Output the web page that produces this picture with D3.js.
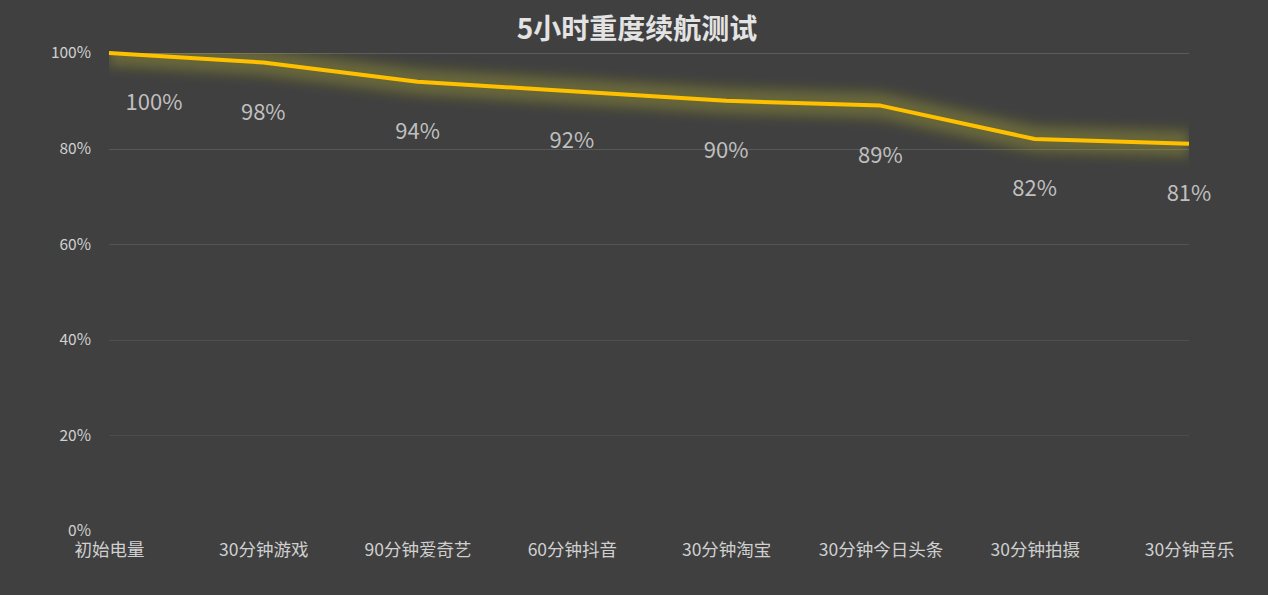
<!DOCTYPE html>
<html>
<head>
<meta charset="utf-8">
<script src="https://cdn.jsdelivr.net/npm/d3@7"></script>
<style>
  html, body { margin: 0; padding: 0; background: #404040; }
  svg { display: block; }
  text { font-family: "Noto Sans CJK SC", "Noto Sans", sans-serif; }
</style>
</head>
<body>
<svg id="chart" width="1268" height="595"></svg>
<script>
const title = "5小时重度续航测试";
const categories = ["初始电量", "30分钟游戏", "90分钟爱奇艺", "60分钟抖音", "30分钟淘宝", "30分钟今日头条", "30分钟拍摄", "30分钟音乐"];
const values = [1.00, 0.98, 0.94, 0.92, 0.90, 0.89, 0.82, 0.81];
const yTicks = [0, 0.2, 0.4, 0.6, 0.8, 1.0];

const W = 1268, H = 595;
const plot = { left: 109, right: 1189, top: 53, bottom: 531 };

const svg = d3.select("#chart");
svg.append("rect").attr("width", W).attr("height", H).attr("fill", "#404040");

const x = d3.scalePoint().domain(categories).range([plot.left, plot.right]).padding(0);
const y = d3.scaleLinear().domain([0, 1]).range([plot.bottom, plot.top]);

// defs
const defs = svg.append("defs");
defs.append("clipPath").attr("id", "plotClip")
  .append("rect")
  .attr("x", plot.left).attr("y", plot.top)
  .attr("width", plot.right - plot.left).attr("height", plot.bottom - plot.top);
const f = defs.append("filter").attr("id", "glow")
  .attr("x", "-10%").attr("y", "-200%").attr("width", "120%").attr("height", "500%");
f.append("feGaussianBlur").attr("stdDeviation", 6);

// title
svg.append("text")
  .attr("x", 637).attr("y", 27)
  .attr("text-anchor", "middle").attr("dominant-baseline", "central")
  .attr("font-size", 28).attr("font-weight", "bold")
  .attr("fill", "#e3e3e3")
  .text(title);

// gridlines
const grid = svg.append("g");
yTicks.filter(t => t > 0).forEach(t => {
  grid.append("line")
    .attr("x1", plot.left).attr("x2", plot.right)
    .attr("y1", Math.round(y(t)) + 0.5).attr("y2", Math.round(y(t)) + 0.5)
    .attr("stroke", "#ffffff")
    .attr("stroke-opacity", 0.04 + 0.11 * t)
    .attr("stroke-width", 1);
});

// y axis labels
const yAxis = d3.axisLeft(y).tickValues(yTicks).tickFormat(d3.format(".0%")).tickSize(0).tickPadding(18);
const gy = svg.append("g").attr("transform", `translate(${plot.left},0)`).call(yAxis);
gy.select(".domain").remove();
gy.selectAll("text")
  .attr("font-size", 15.5).attr("fill", "#d0d0d0")
  .attr("font-family", "\"Noto Sans CJK SC\", sans-serif");

// x axis labels
const xAxis = d3.axisBottom(x).tickSize(0).tickPadding(0);
const gx = svg.append("g").attr("transform", `translate(0,${plot.bottom + 19})`).call(xAxis);
gx.select(".domain").remove();
gx.selectAll("text")
  .attr("dy", "0.35em")
  .attr("font-size", 17.5).attr("fill", "#d0d0d0")
  .attr("font-family", "\"Noto Sans CJK SC\", sans-serif");

// line
const line = d3.line().x((d, i) => x(categories[i])).y(d => y(d));
const lg = svg.append("g").attr("clip-path", "url(#plotClip)");
lg.append("path")
  .attr("d", line(values))
  .attr("fill", "none")
  .attr("stroke", "#e8e020")
  .attr("stroke-opacity", 0.24)
  .attr("stroke-width", 26)
  .attr("stroke-linejoin", "round")
  .attr("filter", "url(#glow)");
svg.append("path")
  .attr("d", line(values))
  .attr("fill", "none")
  .attr("stroke", "#FFC000")
  .attr("stroke-width", 4)
  .attr("stroke-linejoin", "round");

// data labels
const fmt = d3.format(".0%");
svg.append("g").selectAll("text")
  .data(values)
  .join("text")
  .attr("x", (d, i) => Math.max(x(categories[i]), plot.left + 45))
  .attr("y", d => y(d) + 47)
  .attr("text-anchor", "middle").attr("dominant-baseline", "central")
  .attr("font-size", 22).attr("fill", "#bfbfbf")
  .text(d => fmt(d));
</script>
</body>
</html>
